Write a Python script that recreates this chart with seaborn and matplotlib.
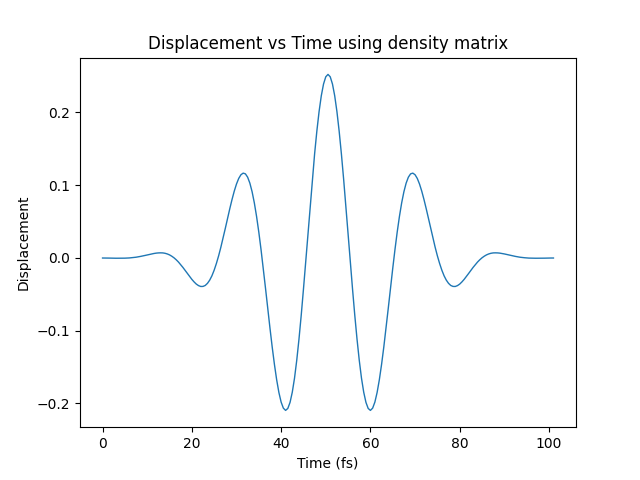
import numpy as np
import pandas as pd
import matplotlib
matplotlib.use('Agg')
import matplotlib.pyplot as plt
import seaborn as sns

# sampled every 0.5 fs, 0 .. 101 fs
time_fs = np.linspace(0, 101, 203)

displacement = [
    -0.0002, -0.0002, -0.0003, -0.0003, -0.0004, -0.0004, -0.0005, -0.0005,
    -0.0005, -0.0005, -0.0004, -0.0003, -0.0001, 0.0002, 0.0005, 0.0009,
    0.0014, 0.0020, 0.0026, 0.0033, 0.0040, 0.0047, 0.0054, 0.0060,
    0.0065, 0.0068, 0.0069, 0.0068, 0.0063, 0.0054, 0.0041, 0.0023,
    0.0001, -0.0026, -0.0057, -0.0093, -0.0131, -0.0172, -0.0214, -0.0255,
    -0.0295, -0.0330, -0.0360, -0.0381, -0.0393, -0.0392, -0.0379, -0.0350,
    -0.0306, -0.0246, -0.0169, -0.0077, 0.0028, 0.0146, 0.0273, 0.0406,
    0.0542, 0.0675, 0.0801, 0.0916, 0.1014, 0.1091, 0.1142, 0.1164,
    0.1154, 0.1108, 0.1026, 0.0908, 0.0755, 0.0569, 0.0354, 0.0114,
    -0.0145, -0.0416, -0.0692, -0.0964, -0.1224, -0.1463, -0.1674, -0.1849,
    -0.1981, -0.2064, -0.2095, -0.2068, -0.1985, -0.1845, -0.1652, -0.1406,
    -0.1116, -0.0789, -0.0432, -0.0057, 0.0328, 0.0711, 0.1082, 0.1428,
    0.1740, 0.2009, 0.2227, 0.2388, 0.2487,
    0.2520,
    0.2487, 0.2388, 0.2227, 0.2009, 0.1740, 0.1428, 0.1082, 0.0711,
    0.0328, -0.0057, -0.0432, -0.0789, -0.1116, -0.1406, -0.1652, -0.1845,
    -0.1985, -0.2068, -0.2095, -0.2064, -0.1981, -0.1849, -0.1674, -0.1463,
    -0.1224, -0.0964, -0.0692, -0.0416, -0.0145, 0.0114, 0.0354, 0.0569,
    0.0755, 0.0908, 0.1026, 0.1108, 0.1154, 0.1164, 0.1142, 0.1091,
    0.1014, 0.0916, 0.0801, 0.0675, 0.0542, 0.0406, 0.0273, 0.0146,
    0.0028, -0.0077, -0.0169, -0.0246, -0.0306, -0.0350, -0.0379, -0.0392,
    -0.0393, -0.0381, -0.0360, -0.0330, -0.0295, -0.0255, -0.0214, -0.0172,
    -0.0131, -0.0093, -0.0057, -0.0026, 0.0001, 0.0023, 0.0041, 0.0054,
    0.0063, 0.0068, 0.0069, 0.0068, 0.0065, 0.0060, 0.0054, 0.0047,
    0.0040, 0.0033, 0.0026, 0.0020, 0.0014, 0.0009, 0.0005, 0.0002,
    -0.0001, -0.0003, -0.0004, -0.0005, -0.0005, -0.0005, -0.0005, -0.0004,
    -0.0004, -0.0003, -0.0003, -0.0002, -0.0002,
]

df = pd.DataFrame({'time': time_fs, 'disp': displacement})

fig, ax = plt.subplots(figsize=(6.4, 4.8), dpi=100)
sns.lineplot(data=df, x='time', y='disp', ax=ax, color='#1f77b4', linewidth=1)
ax.set_title('Displacement vs Time using density matrix')
ax.set_xlabel('Time (fs)')
ax.set_ylabel('Displacement')
fig.savefig('out.png', dpi=100)
